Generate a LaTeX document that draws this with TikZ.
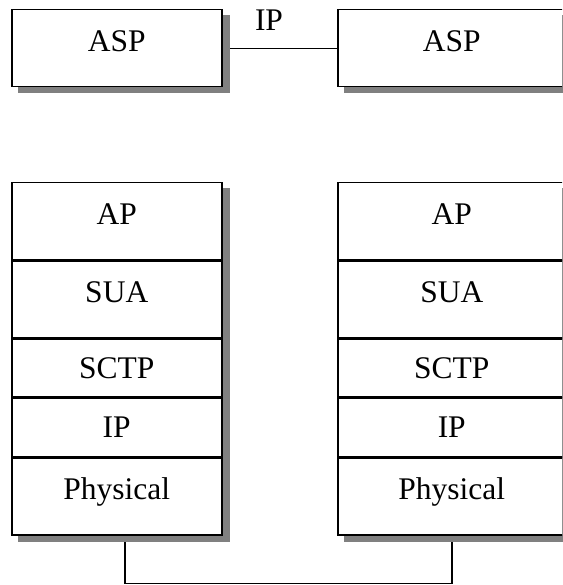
\documentclass[tikz,border=0pt]{standalone}
\usepackage{fontspec}
\setmainfont{Liberation Serif}
\usetikzlibrary{calc}
\pgfdeclarelayer{bg}
\pgfsetlayers{bg,main}

\begin{document}
\begin{tikzpicture}[x=1pt,y=-1pt,
  layerbox/.style={draw=black, line width=1.5pt, fill=white, inner sep=0pt,
    anchor=north west, font=\fontsize{31.5}{36}\selectfont, text height=21pt},
  wideL/.style={layerbox, minimum width=210pt},
  wideR/.style={layerbox, minimum width=228pt},
  tall/.style={minimum height=77pt, text depth=15pt},
  mid/.style={minimum height=76pt, text depth=14pt},
  short/.style={minimum height=58pt, text depth=-4pt},
  shadowfill/.style={fill=black!50},
  wire/.style={draw=black, line width=1.2pt},
  lbl/.style={inner sep=0pt, font=\fontsize{31.5}{36}\selectfont}
]
\useasboundingbox (0,0) rectangle (562,585);
\clip (0,0) rectangle (562,585);

% application server processes
\node[wideL, tall] (aspL) at (11,9) {ASP};
\node[wideR, tall] (aspR) at (337,9) {ASP};
\node[lbl] (iplink) at (269,20) {IP};

% left protocol stack
\node[wideL, tall]  (apL)   at (11,182) {AP};
\node[wideL, mid]   (suaL)  at (apL.south west) {SUA};
\node[wideL, short] (sctpL) at (suaL.south west) {SCTP};
\node[wideL, short] (ipL)   at (sctpL.south west) {IP};
\node[wideL, tall]  (phyL)  at (ipL.south west) {Physical};

% right protocol stack
\node[wideR, tall]  (apR)   at (337,182) {AP};
\node[wideR, mid]   (suaR)  at (apR.south west) {SUA};
\node[wideR, short] (sctpR) at (suaR.south west) {SCTP};
\node[wideR, short] (ipR)   at (sctpR.south west) {IP};
\node[wideR, tall]  (phyR)  at (ipR.south west) {Physical};

% physical link turning points
\coordinate (jl) at (125,583.5);
\coordinate (jr) at (452,583.5);

\begin{pgfonlayer}{bg}
  % links
  \draw[wire] (aspL.east) -- (aspR.west);
  \draw[wire] (phyL.south -| jl) -- (jl) -- (jr) -- (phyR.south -| jr);
  % drop shadows
  \fill[shadowfill] ($(aspL.north west)+(7,6)$) rectangle ($(aspL.south east)+(7,6)$);
  \fill[shadowfill] ($(aspR.north west)+(7,6)$) rectangle ($(aspR.south east)+(7,6)$);
  \fill[shadowfill] ($(apL.north west)+(7,6)$) rectangle ($(phyL.south east)+(7,6)$);
  \fill[shadowfill] ($(apR.north west)+(7,6)$) rectangle ($(phyR.south east)+(7,6)$);
\end{pgfonlayer}
\end{tikzpicture}
\end{document}
